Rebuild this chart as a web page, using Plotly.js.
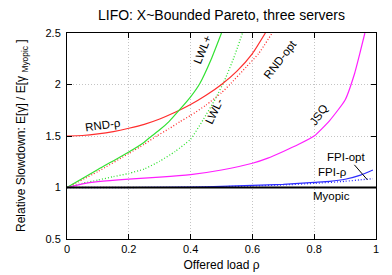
<!DOCTYPE html>
<html>
<head>
<meta charset="utf-8">
<script src="https://cdn.plot.ly/plotly-3.0.1.min.js"></script>
<style>html,body{margin:0;padding:0;background:#fff;}#chart{width:392px;height:275px;}</style>
</head>
<body>
<div id="chart"></div>
<script>
// Offered load values and relative slowdown series
const rndRhoX = [0, 0.05, 0.1, 0.15, 0.2, 0.25, 0.3, 0.35, 0.4, 0.45, 0.5, 0.55, 0.6, 0.642];
const rndRhoY = [1.5, 1.505, 1.52, 1.543, 1.575, 1.613, 1.665, 1.73, 1.805, 1.895, 2.0, 2.13, 2.3, 2.5];

const rndOptX = [0, 0.1, 0.2, 0.25, 0.29, 0.33, 0.366, 0.4, 0.45, 0.5, 0.527, 0.58, 0.62, 0.664];
const rndOptY = [1, 1.155, 1.33, 1.42, 1.5, 1.57, 1.64, 1.70, 1.8, 1.92, 2.0, 2.17, 2.3, 2.5];

const lwlPlusX = [0, 0.1, 0.2, 0.25, 0.274, 0.3, 0.33, 0.366, 0.4, 0.43, 0.466, 0.5];
const lwlPlusY = [1, 1.175, 1.345, 1.44, 1.5, 1.56, 1.64, 1.76, 1.88, 2.01, 2.24, 2.5];

const lwlMinusX = [0, 0.05, 0.1, 0.15, 0.2, 0.25, 0.3, 0.35, 0.4, 0.44, 0.48, 0.51, 0.54, 0.568];
const lwlMinusY = [1, 1.04, 1.072, 1.105, 1.137, 1.18, 1.255, 1.35, 1.47, 1.655, 1.86, 2.04, 2.26, 2.5];

const jsqX = [0, 0.05, 0.1, 0.2, 0.3, 0.4, 0.5, 0.6, 0.65, 0.7, 0.75, 0.8, 0.85, 0.9, 0.93, 0.95, 0.964];
const jsqY = [1, 1.035, 1.057, 1.082, 1.1, 1.125, 1.17, 1.235, 1.285, 1.35, 1.42, 1.5, 1.65, 1.85, 2.1, 2.33, 2.5];

const fpiRhoX = [0, 0.2, 0.4, 0.5, 0.6, 0.7, 0.8, 0.85, 0.9, 0.95, 0.99];
const fpiRhoY = [1, 1.0, 1.005, 1.01, 1.02, 1.03, 1.05, 1.06, 1.08, 1.12, 1.17];

const fpiOptX = [0, 0.2, 0.4, 0.5, 0.6, 0.7, 0.8, 0.9, 0.95, 0.99];
const fpiOptY = [1, 1.0, 1.003, 1.008, 1.015, 1.025, 1.04, 1.06, 1.075, 1.085];

const myopicX = [0, 1];
const myopicY = [1, 1];

const xTicks = [0, 0.2, 0.4, 0.6, 0.8, 1];
const xTickLabels = ['0', '0.2', '0.4', '0.6', '0.8', '1'];
const yTicks = [0.5, 1, 1.5, 2, 2.5];
const yTickLabels = ['0.5', '1', '1.5', '2', '2.5'];

const RED = 'rgb(255,45,45)';
const GREEN = 'rgb(50,225,50)';
const MAG = 'rgb(255,30,255)';
const BLUE = 'rgb(45,45,255)';
const DOTS = '1px,2px';

function tr(x, y, color, dash, width) {
  return {x: x, y: y, type: 'scatter', mode: 'lines', line: {color: color, dash: dash, width: width, shape: 'spline', smoothing: 0.5}, hoverinfo: 'skip', showlegend: false, cliponaxis: true};
}

const data = [
  tr(rndOptX, rndOptY, RED, DOTS, 1.3),
  tr(lwlMinusX, lwlMinusY, GREEN, DOTS, 1.3),
  tr(fpiOptX, fpiOptY, BLUE, DOTS, 1.3),
  tr(rndRhoX, rndRhoY, RED, 'solid', 1.2),
  tr(lwlPlusX, lwlPlusY, GREEN, 'solid', 1.2),
  tr(jsqX, jsqY, MAG, 'solid', 1.2),
  tr(fpiRhoX, fpiRhoY, BLUE, 'solid', 1.2),
  tr(myopicX, myopicY, '#000', 'solid', 2)
];

const annFont = {family: 'Liberation Sans, Arial, sans-serif', size: 11.5, color: '#000'};
function ann(text, x, y, angle) {
  return {text: text, x: x, y: y, xref: 'x', yref: 'y', showarrow: false, textangle: angle, font: annFont};
}

const layout = {
  width: 392, height: 275,
  margin: {l: 67, r: 16, t: 33, b: 36, pad: 0},
  paper_bgcolor: '#fff', plot_bgcolor: '#fff',
  font: {family: 'Liberation Sans, Arial, sans-serif', size: 11, color: '#000'},
  title: {text: 'LIFO: X~Bounded Pareto, three servers', font: {size: 14}, x: 0.5, xref: 'paper', y: 1 - 15 / 275, yref: 'container', yanchor: 'middle'},
  xaxis: {
    range: [0, 1], tickvals: xTicks, ticktext: xTickLabels,
    ticks: 'inside', ticklen: 5, tickcolor: '#000', mirror: 'allticks', showline: true, linecolor: '#000', linewidth: 1,
    showgrid: true, gridcolor: '#c4c4c4', griddash: '1px,2px', gridwidth: 1, zeroline: false,
    title: {text: 'Offered load ρ', font: {size: 12}, standoff: 6}, automargin: false
  },
  yaxis: {
    range: [0.5, 2.5], tickvals: yTicks, ticktext: yTickLabels, ticklabelstandoff: 3,
    ticks: 'inside', ticklen: 5, tickcolor: '#000', mirror: 'allticks', showline: true, linecolor: '#000', linewidth: 1,
    showgrid: true, gridcolor: '#c4c4c4', griddash: '1px,2px', gridwidth: 1, zeroline: false,
    automargin: false
  },
  annotations: [
    {text: 'Relative Slowdown: E[γ] / E[γ <sub>Myopic</sub> ]', xref: 'paper', yref: 'paper', x: -45 / 309, y: 0.5, xanchor: 'center', yanchor: 'middle', textangle: -90, showarrow: false, font: {family: 'Liberation Sans, Arial, sans-serif', size: 12, color: '#000'}},
    ann('RND-ρ', 0.117, 1.61, -8),
    ann('LWL+', 0.44, 2.34, -68),
    ann('RND-opt', 0.69, 2.25, -52),
    ann('LWL-', 0.477, 1.74, -65),
    ann('JSQ', 0.815, 1.7, -55),
    ann('FPI-opt', 0.906, 1.3, 0),
    ann('FPI-ρ', 0.86, 1.15, 0),
    ann('Myopic', 0.855, 0.92, 0)
  ],
  shapes: [
    {type: 'line', xref: 'x', yref: 'y', x0: 0.93, y0: 1.22, x1: 0.972, y1: 1.075, line: {color: '#000', width: 1}}
  ]
};

Plotly.newPlot('chart', data, layout, {staticPlot: true, displayModeBar: false});
</script>
</body>
</html>
